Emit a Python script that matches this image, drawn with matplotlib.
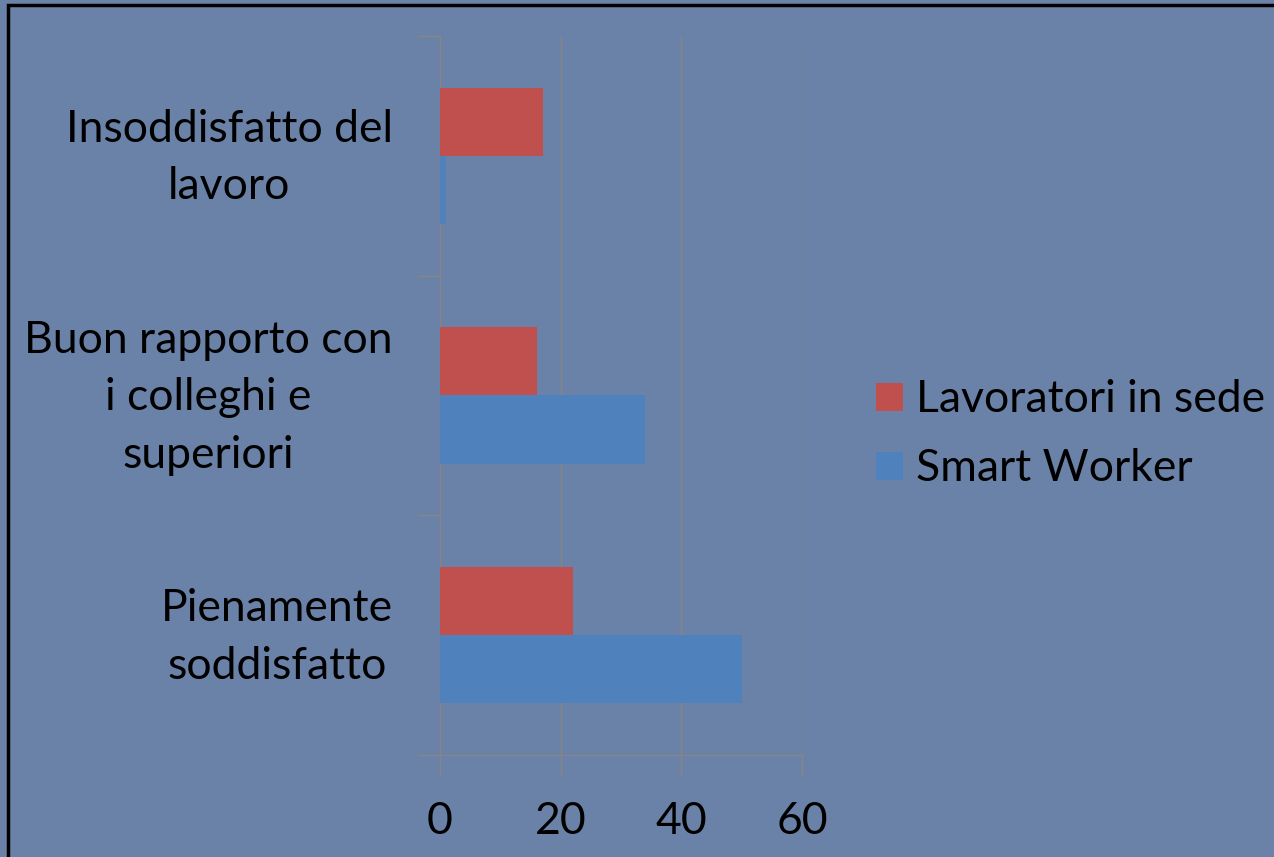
import matplotlib.pyplot as plt
from matplotlib.patches import Rectangle
from matplotlib.transforms import ScaledTranslation

# dati
categorie = ['Pienamente\nsoddisfatto', 'Buon rapporto con\ni colleghi e\nsuperiori', 'Insoddisfatto del\nlavoro']
in_sede = [22, 16, 17]
smart_worker = [50, 34, 1]
serie = ['Lavoratori in sede', 'Smart Worker']
x_ticks = [0, 20, 40, 60]

sfondo = '#6a82a7'
rosso = '#c0504d'
blu = '#4f81bd'
grigio = '#858585'

plt.rcParams['font.family'] = ['Lato', 'DejaVu Sans']

fig = plt.figure(figsize=(12.74, 8.57), dpi=100, facecolor=sfondo)
ax = fig.add_axes([440/1274, 1-755/857, 362/1274, 719/857])
ax.set_facecolor(sfondo)

pos = list(range(len(categorie)))
h = 0.285
ax.barh([p + h/2 for p in pos], in_sede, height=h, color=rosso, label=serie[0], zorder=3)
ax.barh([p - h/2 for p in pos], smart_worker, height=h, color=blu, label=serie[1], zorder=3)

ax.set_xlim(0, 60)
ax.set_ylim(-0.5, 2.5)
ax.set_xticks(x_ticks)
ax.set_xticklabels([str(t) for t in x_ticks], fontsize=32)
ax.set_yticks([-0.5, 0.5, 1.5, 2.5])
ax.set_yticklabels([])
ax.set_yticks(pos, minor=True)
ax.set_yticklabels(categorie, minor=True, fontsize=32, multialignment='center', linespacing=1.5)
ax.tick_params(axis='y', which='minor', length=0, pad=34)
ax.tick_params(axis='y', which='major', length=16, color=grigio, width=1)
ax.tick_params(axis='x', length=15, color=grigio, width=1, pad=18)
ax.grid(axis='x', color=grigio, linewidth=1, zorder=0)
for s in ['top', 'right']:
    ax.spines[s].set_visible(False)
for s in ['left', 'bottom']:
    ax.spines[s].set_color(grigio)
    ax.spines[s].set_linewidth(1)

# etichette un po' piu' in alto
su = ScaledTranslation(0, 10/100, fig.dpi_scale_trans)
for lab in ax.get_yticklabels(minor=True):
    lab.set_transform(lab.get_transform() + su)

ax.legend(loc='center left', bbox_to_anchor=(1.204, 0.446), frameon=False, fontsize=32,
          borderpad=0, borderaxespad=0, handlelength=0.6, handleheight=0.6,
          handletextpad=0.3, labelspacing=0.63)

# cornice nera
fig.patches.append(Rectangle((8/1274, -0.05), 1.1, 1 - 5/857 + 0.05, transform=fig.transFigure,
                             fill=False, edgecolor='black', linewidth=2.5))

fig.savefig('out.png', dpi=100, facecolor=sfondo)
